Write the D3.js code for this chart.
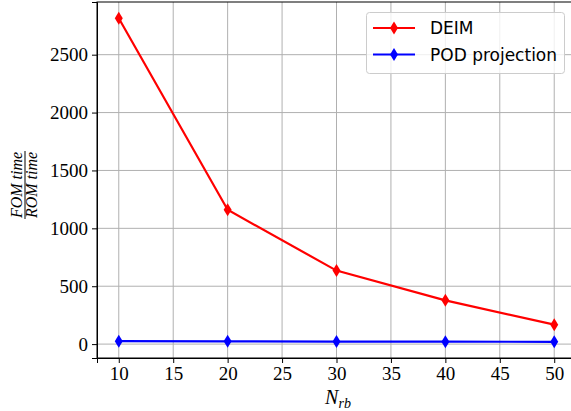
<!DOCTYPE html>
<html>
<head>
<meta charset="utf-8">
<script src="https://cdn.jsdelivr.net/npm/d3@7"></script>
<style>
  body { margin: 0; background: #fff; }
  svg { display: block; }
  .grid line { stroke: #b0b0b0; stroke-width: 1; }
</style>
</head>
<body>
<div id="graf"></div>
<script>
const anchoTotal = 571
const altoTotal = 411

// data
const nrb = [10, 20, 30, 40, 50]
const deim = [2815, 1160, 635, 378, 168]
const pod = [25, 24, 22, 21, 20]
const xTicks = [10, 15, 20, 25, 30, 35, 40, 45, 50]
const yTicks = [0, 500, 1000, 1500, 2000, 2500]

const series = [
  { name: 'DEIM', values: deim, color: '#ff0000' },
  { name: 'POD projection', values: pod, color: '#0000ff' },
]

const margin = { top: 2, bottom: 53, left: 97, right: -5 }
const ancho = anchoTotal - margin.left - margin.right
const alto = altoTotal - margin.top - margin.bottom

const serif = 'Liberation Serif, DejaVu Serif, serif'

const svg = d3.select('#graf')
  .append('svg')
  .attr('width', anchoTotal)
  .attr('height', altoTotal)

const g = svg.append('g')
  .attr('transform', `translate(${margin.left}, ${margin.top})`)

const x = d3.scaleLinear().domain([8, 52]).range([0, ancho])
const y = d3.scaleLinear().domain([-120, 2955]).range([alto, 0])

// grid
const grid = g.append('g').attr('class', 'grid')
grid.selectAll('line.v').data(xTicks).enter().append('line')
  .attr('x1', d => x(d)).attr('x2', d => x(d))
  .attr('y1', 0).attr('y2', alto)
grid.selectAll('line.h').data(yTicks).enter().append('line')
  .attr('x1', 0).attr('x2', ancho)
  .attr('y1', d => y(d)).attr('y2', d => y(d))

// lines + markers
const linea = d3.line()
  .x((d, i) => x(nrb[i]))
  .y(d => y(d))

const diamante = d3.symbol().type({
  draw(ctx, size) {
    const w = 4, h = 6.5
    ctx.moveTo(0, -h); ctx.lineTo(w, 0); ctx.lineTo(0, h); ctx.lineTo(-w, 0); ctx.closePath()
  }
})()

series.forEach(s => {
  g.append('path')
    .datum(s.values)
    .attr('fill', 'none')
    .attr('stroke', s.color)
    .attr('stroke-width', 2.2)
    .attr('d', linea)
  g.selectAll(null).data(s.values).enter().append('path')
    .attr('d', diamante)
    .attr('fill', s.color)
    .attr('transform', (d, i) => `translate(${x(nrb[i])}, ${y(d)})`)
})

// axes
const estilo = a => {
  a.attr('font-family', serif).attr('font-size', 19)
  a.selectAll('.tick line').attr('stroke', '#000')
  a.selectAll('.tick text').attr('fill', '#000').attr('font-family', serif).attr('font-size', 19)
}

g.append('g')
  .attr('class', 'ejes')
  .attr('transform', `translate(0, ${alto})`)
  .call(d3.axisBottom(x).tickValues(xTicks).tickSize(5).tickPadding(4).tickFormat(d3.format('d')))
  .call(estilo)

g.append('g')
  .attr('class', 'ejes')
  .call(d3.axisLeft(y).tickValues(yTicks).tickSize(5).tickPadding(4).tickFormat(d3.format('d')))
  .call(estilo)

// frame
g.append('rect')
  .attr('x', 0).attr('y', 0)
  .attr('width', ancho).attr('height', alto)
  .attr('fill', 'none')
  .attr('stroke', '#000')
  .attr('stroke-width', 1)

// x label
svg.append('text')
  .attr('x', 338).attr('y', 404)
  .attr('text-anchor', 'middle')
  .attr('font-family', serif)
  .attr('font-style', 'italic')
  .attr('font-size', 20)
  .html('N<tspan font-size="14" dy="4">rb</tspan>')

// y label (fraction)
const yl = svg.append('g')
  .attr('transform', 'translate(25, 185) rotate(-90)')
  .attr('font-family', serif)
  .attr('font-style', 'italic')
  .attr('font-size', 16)
yl.append('text').attr('text-anchor', 'middle').attr('y', -3).text('FOM time')
yl.append('text').attr('text-anchor', 'middle').attr('y', 12).text('ROM time')
yl.append('line').attr('x1', -34).attr('x2', 34).attr('y1', 0).attr('y2', 0)
  .attr('stroke', '#000').attr('stroke-width', 1)

// legend
const leg = svg.append('g')
  .attr('font-family', 'DejaVu Sans, sans-serif')
  .attr('font-size', 17)
leg.append('rect')
  .attr('x', 366.5).attr('y', 12.5).attr('width', 198).attr('height', 61).attr('rx', 3)
  .attr('fill', '#fff').attr('fill-opacity', 0.8)
  .attr('stroke', '#cccccc')
series.forEach((s, i) => {
  const yy = 28 + i * 26.5
  leg.append('line')
    .attr('x1', 373).attr('x2', 415).attr('y1', yy).attr('y2', yy)
    .attr('stroke', s.color).attr('stroke-width', 2.2)
  leg.append('path').attr('d', diamante).attr('fill', s.color)
    .attr('transform', `translate(394, ${yy})`)
  leg.append('text').attr('x', 430).attr('y', yy + 6).text(s.name)
})
</script>
</body>
</html>
